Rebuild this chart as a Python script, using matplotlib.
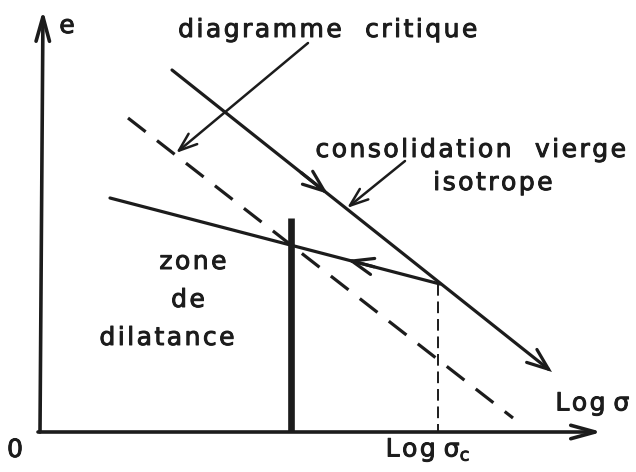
import matplotlib.pyplot as plt
import matplotlib.patheffects as pe
from matplotlib.patches import FancyArrowPatch

plt.rcParams['mathtext.default'] = 'regular'

# line end points, in drawing units (x to the right, y downwards)
virgin_x = [172, 552]
virgin_y = [70, 372]
critical_x = [128, 513]
critical_y = [118, 418]
unload_x = [440, 110]
unload_y = [284, 198]
log_sigma_c = 438
dilatancy_x = 291
dilatancy_top = 218

origin = (40, 432)
axis_end_x = 602
axis_end_y = 10

labels = {
    'e': (67, 26),
    '0': (15, 450),
    'diagramme  critique': (328, 30),
    'consolidation  vierge': (471, 150),
    'isotrope': (493, 183),
    'zone': (193, 262),
    'de': (188, 300),
    'dilatance': (167, 338),
}

fig = plt.figure(figsize=(6.36, 4.72), dpi=100)
ax = fig.add_axes([0, 0, 1, 1])
ax.set_xlim(0, 636)
ax.set_ylim(472, 0)
ax.axis('off')

ink = '#1c1c1c'
lw = 2.3


def arrow(p0, p1, lw=lw, hl=0.75, hw=0.3):
    a = FancyArrowPatch(p0, p1, arrowstyle=f'->,head_length={hl},head_width={hw}',
                        mutation_scale=22, lw=lw, color=ink, shrinkA=0, shrinkB=0,
                        capstyle='round', joinstyle='miter')
    ax.add_patch(a)


def along(xs, ys, t):
    return (xs[0] + t * (xs[1] - xs[0]), ys[0] + t * (ys[1] - ys[0]))


def spaced(s):
    # lettering with wide tracking
    return '\u200a'.join(s)


# axes
arrow((origin[0], origin[1]), (origin[0] + 3, axis_end_y), lw=2.6, hl=0.8, hw=0.22)
arrow((origin[0] - 2, origin[1]), (axis_end_x, origin[1]), lw=2.6, hl=0.8, hw=0.22)

# virgin isotropic consolidation line, with a mid arrow
arrow((virgin_x[0], virgin_y[0]), (virgin_x[1], virgin_y[1]), hl=0.7, hw=0.27)
arrow(along(virgin_x, virgin_y, 0.34), along(virgin_x, virgin_y, 0.41), hl=0.7, hw=0.27)

# critical state line
ax.plot(critical_x, critical_y, color=ink, lw=lw, dashes=(7, 4.5))

# unloading line
ax.plot(unload_x, unload_y, color=ink, lw=lw, solid_capstyle='round')
arrow(along(unload_x, unload_y, 0.2), along(unload_x, unload_y, 0.28), hl=0.7, hw=0.27)

# sigma_c marker and dilatancy boundary
ax.plot([log_sigma_c, log_sigma_c], [unload_y[0], origin[1]], color=ink, lw=1.4,
        dashes=(6, 3))
ax.plot([dilatancy_x, dilatancy_x], [dilatancy_top, origin[1]], color=ink, lw=4.8,
        solid_capstyle='butt')

# annotation arrows
arrow((308, 43), (176, 153), lw=1.8, hl=0.6, hw=0.22)
arrow((405, 161), (347, 208), lw=1.8, hl=0.6, hw=0.22)

font = dict(color=ink, fontsize=18, ha='center', va='center', family='DejaVu Sans',
            path_effects=[pe.withStroke(linewidth=0.7, foreground=ink)])
for s, (x, y) in labels.items():
    ax.text(x, y, spaced(s), **font)
ax.text(593, 404, 'L\u200ao\u200ag $\\sigma$', **font)
ax.text(428, 450, 'L\u200ao\u200ag $\\sigma_c$', **font)

fig.savefig('out.png', dpi=100)
